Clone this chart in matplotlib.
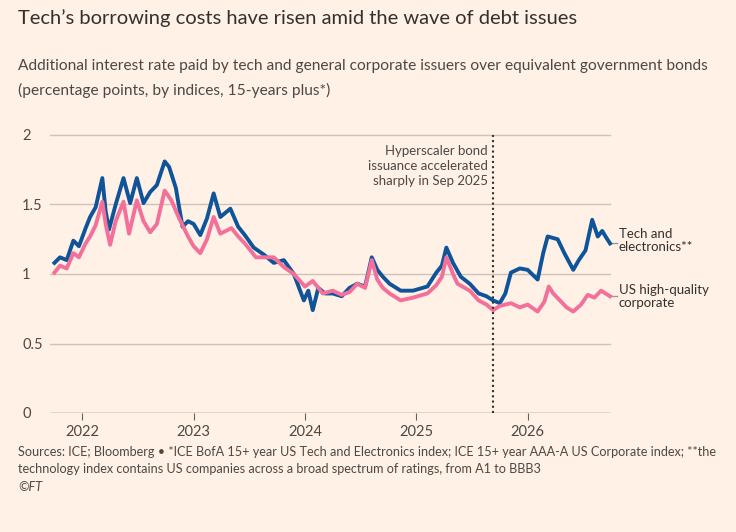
import matplotlib
matplotlib.use("Agg")
import matplotlib.pyplot as plt

plt.rcParams['font.family'] = ['Lato', 'DejaVu Sans']

tech_x = [2021.75, 2021.80, 2021.86, 2021.92, 2021.97, 2022.03, 2022.07, 2022.12, 2022.18, 2022.21, 2022.24,
          2022.30, 2022.37, 2022.43, 2022.49, 2022.55, 2022.61, 2022.67, 2022.74, 2022.78, 2022.84, 2022.90,
          2022.95, 2023.00, 2023.06, 2023.12, 2023.18, 2023.24, 2023.33, 2023.40, 2023.46, 2023.54, 2023.63,
          2023.72, 2023.81, 2023.90, 2023.99, 2024.03, 2024.07, 2024.12, 2024.18, 2024.25, 2024.33, 2024.40,
          2024.47, 2024.54, 2024.60, 2024.65, 2024.70, 2024.76, 2024.86, 2024.97, 2025.10, 2025.18, 2025.23,
          2025.27, 2025.33, 2025.40, 2025.48, 2025.56, 2025.63, 2025.69, 2025.75, 2025.80, 2025.85, 2025.93,
          2026.00, 2026.09, 2026.14, 2026.18, 2026.27, 2026.33, 2026.41, 2026.46, 2026.52, 2026.58, 2026.63,
          2026.67, 2026.70, 2026.74]
tech_y = [1.08, 1.12, 1.10, 1.24, 1.20, 1.33, 1.41, 1.48, 1.69, 1.45, 1.32,
          1.50, 1.69, 1.51, 1.69, 1.51, 1.59, 1.64, 1.81, 1.77, 1.62, 1.34,
          1.38, 1.36, 1.28, 1.40, 1.58, 1.41, 1.47, 1.34, 1.28, 1.19, 1.14,
          1.08, 1.10, 1.00, 0.81, 0.88, 0.74, 0.90, 0.86, 0.86, 0.84, 0.90,
          0.93, 0.91, 1.12, 1.03, 0.98, 0.93, 0.88, 0.88, 0.91, 1.01, 1.06,
          1.19, 1.08, 0.98, 0.93, 0.86, 0.84, 0.81, 0.79, 0.86, 1.01, 1.04,
          1.03, 0.96, 1.15, 1.27, 1.25, 1.15, 1.03, 1.10, 1.17, 1.39, 1.27,
          1.31, 1.27, 1.22]

corp_x = [2021.75, 2021.80, 2021.86, 2021.92, 2021.97, 2022.03, 2022.07, 2022.12, 2022.18, 2022.21, 2022.25,
          2022.30, 2022.37, 2022.42, 2022.49, 2022.55, 2022.61, 2022.67, 2022.74, 2022.80, 2022.87, 2022.95,
          2023.00, 2023.06, 2023.12, 2023.18, 2023.24, 2023.34, 2023.40, 2023.46, 2023.56, 2023.72, 2023.81,
          2023.90, 2024.00, 2024.07, 2024.16, 2024.25, 2024.33, 2024.40, 2024.47, 2024.54, 2024.60, 2024.65,
          2024.70, 2024.76, 2024.86, 2024.97, 2025.10, 2025.18, 2025.23, 2025.27, 2025.33, 2025.37, 2025.48,
          2025.56, 2025.63, 2025.69, 2025.75, 2025.85, 2025.93, 2026.00, 2026.09, 2026.15, 2026.19, 2026.23,
          2026.29, 2026.35, 2026.41, 2026.48, 2026.54, 2026.60, 2026.66, 2026.70, 2026.74]
corp_y = [1.01, 1.06, 1.04, 1.15, 1.12, 1.22, 1.27, 1.35, 1.52, 1.36, 1.21,
          1.38, 1.52, 1.29, 1.53, 1.38, 1.30, 1.36, 1.60, 1.53, 1.40, 1.27,
          1.20, 1.15, 1.25, 1.41, 1.29, 1.33, 1.27, 1.22, 1.12, 1.12, 1.05,
          1.00, 0.91, 0.95, 0.86, 0.88, 0.85, 0.87, 0.93, 0.90, 1.10, 0.96,
          0.90, 0.86, 0.81, 0.83, 0.86, 0.92, 0.98, 1.12, 1.00, 0.93, 0.88,
          0.81, 0.78, 0.74, 0.77, 0.79, 0.76, 0.78, 0.73, 0.80, 0.91, 0.86,
          0.81, 0.76, 0.73, 0.78, 0.85, 0.83, 0.88, 0.86, 0.84]

years = [2022, 2023, 2024, 2025, 2026]
yticks = [0, 0.5, 1, 1.5, 2]
ytick_labels = ["0", "0.5", "1", "1.5", "2"]

bg = "#FFF1E5"
blue = "#0F5499"
pink = "#F2709A"
grid = "#CEC3B9"
txt = "#33302E"
sub = "#4D4845"

fig = plt.figure(figsize=(7.36, 5.32), dpi=100, facecolor=bg)
ax = fig.add_axes([50/736, 1-413/532, 560/736, 278/532], facecolor=bg)

ax.set_xlim(2021.71, 2026.74)
ax.set_ylim(0, 2)
for v in yticks[1:]:
    ax.axhline(v, color=grid, lw=1, zorder=0, clip_on=False)
ax.axhline(0, color="#66605C", lw=1, zorder=1)

ax.plot(tech_x, tech_y, color=blue, lw=2.8, solid_joinstyle='round', zorder=3, clip_on=False)
ax.plot(corp_x, corp_y, color=pink, lw=2.8, solid_joinstyle='round', zorder=4, clip_on=False)

ax.axvline(2025.69, color=txt, lw=1.5, ls=(0, (1, 1.5)), zorder=5)
ax.text(2025.64, 1.93, "Hyperscaler bond\nissuance accelerated\nsharply in Sep 2025",
        ha="right", va="top", fontsize=9.5, color=sub, linespacing=1.3)

for s in ax.spines.values():
    s.set_visible(False)
ax.set_yticks(yticks)
ax.set_yticklabels(ytick_labels)
ax.tick_params(axis='y', length=0, labelsize=10.5, labelcolor=sub, pad=20)
for lab in ax.get_yticklabels():
    lab.set_horizontalalignment('left')
ax.set_xticks(years)
ax.set_xticklabels([str(y) for y in years])
ax.tick_params(axis='x', length=5, color="#66605C", labelsize=10.5, labelcolor=sub, pad=4)

# end labels
ax.plot([tech_x[-1], tech_x[-1] + 0.06], [tech_y[-1], tech_y[-1]], color="#999", lw=1, clip_on=False)
ax.plot([corp_x[-1], corp_x[-1] + 0.06], [corp_y[-1], corp_y[-1]], color="#999", lw=1, clip_on=False)
ax.text(tech_x[-1] + 0.08, tech_y[-1] + 0.02, "Tech and\nelectronics**", fontsize=9.5, color=txt,
        va="center", ha="left", linespacing=1.1, clip_on=False)
ax.text(corp_x[-1] + 0.08, corp_y[-1], "US high-quality\ncorporate", fontsize=9.5, color=txt,
        va="center", ha="left", linespacing=1.1, clip_on=False)

fig.text(18/736, 1-18/532, "Tech’s borrowing costs have risen amid the wave of debt issues",
         fontsize=14.5, color=txt, va="center", ha="left")
fig.text(18/736, 1-66/532, "Additional interest rate paid by tech and general corporate issuers over equivalent government bonds",
         fontsize=11.2, color=sub, va="center", ha="left")
fig.text(18/736, 1-90/532, "(percentage points, by indices, 15-years plus*)",
         fontsize=11.2, color=sub, va="center", ha="left")
fig.text(18/736, 1-452/532, "Sources: ICE; Bloomberg • *ICE BofA 15+ year US Tech and Electronics index; ICE 15+ year AAA-A US Corporate index; **the",
         fontsize=9.1, color=sub, va="center", ha="left")
fig.text(18/736, 1-469/532, "technology index contains US companies across a broad spectrum of ratings, from A1 to BBB3",
         fontsize=9.1, color=sub, va="center", ha="left")
fig.text(18/736, 1-487/532, "©FT", fontsize=9.1, color=sub, va="center", ha="left", style="italic")

fig.savefig("out.png", dpi=100, facecolor=bg)
